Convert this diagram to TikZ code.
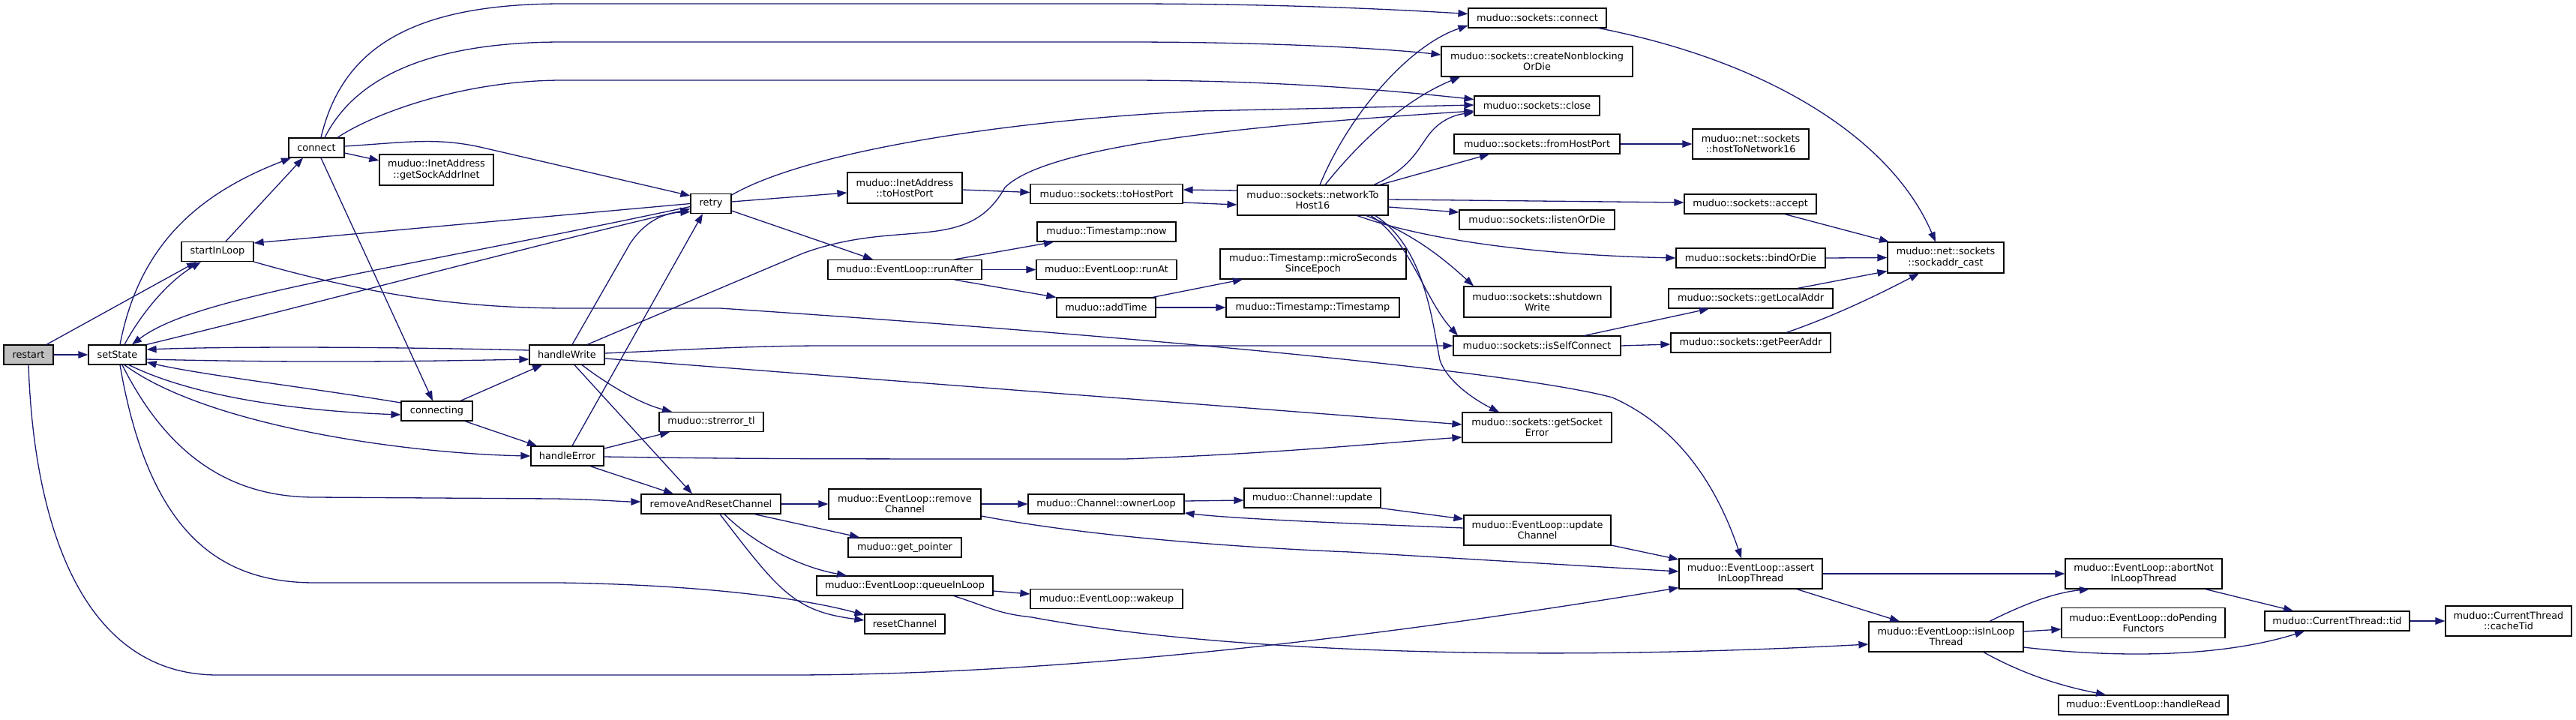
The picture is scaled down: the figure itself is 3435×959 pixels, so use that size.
\documentclass[tikz,border=0pt]{standalone}
\usepackage{fontspec}
\setmainfont{DejaVu Sans}
\usetikzlibrary{arrows.meta}
\definecolor{edgec}{HTML}{191970}
\definecolor{rootfill}{HTML}{BFBFBF}
\newcommand\dnode[5]{\node[nbox,minimum width=#3pt,minimum height=#4pt] (#1) at (#2) {#5};}
\begin{document}
\begin{tikzpicture}[x=1pt,y=-1pt,
  nbox/.style={draw=black, line width=1.2pt, fill=white, inner sep=0pt, align=center, font=\fontsize{12.85}{14.3}\selectfont},
  edg/.style={draw=edgec, line width=1.3pt, -{Triangle[length=13pt,width=9.5pt]}}]
\useasboundingbox (0,0) rectangle (3435,959);
\node[nbox,minimum width=66pt,minimum height=26pt,fill=rootfill] (restart) at (38,473) {restart};
\dnode{setState}{156.5,473}{77}{26}{setState}
\dnode{startInLoop}{290,335.5}{96}{26}{startInLoop}
\dnode{connect}{422,197}{74}{26}{connect}
\dnode{gsai}{582,226.5}{152}{41}{muduo::InetAddress\\::getSockAddrInet}
\dnode{handleWrite}{756,473}{100}{26}{handleWrite}
\dnode{connecting}{582.5,548}{95}{26}{connecting}
\dnode{handleError}{756.5,608}{97}{26}{handleError}
\dnode{rrc}{948,672}{186}{26}{removeAndResetChannel}
\dnode{strerror}{948.5,562.5}{139}{26}{muduo::strerror\_tl}
\dnode{retry}{948,271.5}{54}{26}{retry}
\dnode{ithp}{1206.5,250.5}{153}{41}{muduo::InetAddress\\::toHostPort}
\dnode{sthp}{1475.5,258.5}{203}{26}{muduo::sockets::toHostPort}
\dnode{nth}{1750.5,267}{201}{40}{muduo::sockets::networkTo\\Host16}
\dnode{now}{1475.5,309}{185}{26}{muduo::Timestamp::now}
\dnode{runAfter}{1206.5,359.5}{205}{26}{muduo::EventLoop::runAfter}
\dnode{runAt}{1475.5,359.5}{187}{26}{muduo::EventLoop::runAt}
\dnode{addTime}{1475,410}{132}{26}{muduo::addTime}
\dnode{micro}{1751,352}{248}{40}{muduo::Timestamp::microSeconds\\SinceEpoch}
\dnode{tsts}{1750.5,410}{231}{26}{muduo::Timestamp::Timestamp}
\dnode{removeChannel}{1206.5,672}{203}{40}{muduo::EventLoop::remove\\Channel}
\dnode{ownerLoop}{1475,672}{208}{26}{muduo::Channel::ownerLoop}
\dnode{cupd}{1750,664}{182}{26}{muduo::Channel::update}
\dnode{getptr}{1206.5,730}{151}{26}{muduo::get\_pointer}
\dnode{qil}{1206.5,781}{235}{26}{muduo::EventLoop::queueInLoop}
\dnode{wakeup}{1475.5,798.5}{203}{26}{muduo::EventLoop::wakeup}
\dnode{resetChannel}{1206.5,832}{107}{26}{resetChannel}
\dnode{sconnect}{2050,24}{184}{26}{muduo::sockets::connect}
\dnode{cnb}{2049.5,82}{255}{40}{muduo::sockets::createNonblocking\\OrDie}
\dnode{sclose}{2049.5,141}{167}{26}{muduo::sockets::close}
\dnode{fhp}{2049.5,192}{221}{26}{muduo::sockets::fromHostPort}
\dnode{htn}{2334.5,192}{155}{40}{muduo::net::sockets\\::hostToNetwork16}
\dnode{saccept}{2334,272}{176}{26}{muduo::sockets::accept}
\dnode{slisten}{2049.5,293}{207}{26}{muduo::sockets::listenOrDie}
\dnode{sac}{2594.5,343.5}{155}{41}{muduo::net::sockets\\::sockaddr\_cast}
\dnode{sbind}{2334.5,344}{199}{26}{muduo::sockets::bindOrDie}
\dnode{shutdown}{2050,402.5}{196}{41}{muduo::sockets::shutdown\\Write}
\dnode{gla}{2334.5,398}{219}{26}{muduo::sockets::getLocalAddr}
\dnode{isc}{2049.5,461}{223}{26}{muduo::sockets::isSelfConnect}
\dnode{gpa}{2334.5,457}{213}{26}{muduo::sockets::getPeerAddr}
\dnode{gse}{2049.5,570}{199}{40}{muduo::sockets::getSocket\\Error}
\dnode{updch}{2050,707}{196}{40}{muduo::EventLoop::update\\Channel}
\dnode{ailt}{2334.5,765}{191}{40}{muduo::EventLoop::assert\\InLoopThread}
\dnode{iilt}{2595,849}{206}{40}{muduo::EventLoop::isInLoop\\Thread}
\dnode{abortn}{2858.5,765}{209}{40}{muduo::EventLoop::abortNot\\InLoopThread}
\dnode{dpf}{2858,830.5}{218}{40}{muduo::EventLoop::doPending\\Functors}
\dnode{tid}{3116.5,828}{193}{26}{muduo::CurrentThread::tid}
\dnode{cacheTid}{3345,828}{168}{40}{muduo::CurrentThread\\::cacheTid}
\dnode{handleRead}{2858,940}{226}{26}{muduo::EventLoop::handleRead}
% edges
\draw[edg] (restart.east) -- (setState.west);
\draw[edg] ([xshift=24pt]restart.north) -- ([xshift=-28pt]startInLoop.south);
\draw[edg] (restart.south) .. controls (45,700) and (110,900) .. (290,900) -- (1050,900) .. controls (1450,900) and (1900,840) .. ([yshift=2pt]ailt.south west);
\draw[edg] ([xshift=9.5pt]setState.north) .. controls (190,415) and (225,375) .. ([xshift=-22pt]startInLoop.south);
\draw[edg] ([xshift=3.5pt]setState.north) .. controls (185,330) and (260,260) .. ([xshift=-34pt]connect.south);
\draw[edg] ([xshift=11pt]startInLoop.north) -- ([xshift=-18pt]connect.south);
\draw[edg] ([xshift=6pt]connect.north) .. controls (455,70) and (540,5) .. (750,5) -- (1500,5) .. controls (1700,5) and (1850,12) .. ([yshift=5.5pt]sconnect.west);
\draw[edg] ([xshift=11pt]connect.north) .. controls (470,110) and (560,56) .. (750,56) -- (1500,56) .. controls (1700,56) and (1850,65) .. ([yshift=9pt]cnb.west);
\draw[edg] ([xshift=28pt]connect.north) .. controls (500,150) and (620,107) .. (750,107) -- (1500,107) .. controls (1700,107) and (1850,120) .. ([yshift=8.5pt]sclose.west);
\draw[edg] ([yshift=-7pt]connect.east) -- ([yshift=12.5pt]gsai.west);
\draw[edg] ([yshift=2pt]connect.east) .. controls (540,190) and (580,183) .. (640,196) -- ([yshift=10.5pt]retry.west);
\draw[edg] ([xshift=6pt]connect.south) -- ([xshift=-5.5pt]connecting.north);
\draw[edg] (retry.west) -- ([yshift=11.5pt]startInLoop.east);
\draw[edg] ([yshift=-4pt]retry.west) .. controls (500,365) and (260,395) .. ([xshift=19.5pt]setState.north);
\draw[edg] (setState.north east) .. controls (400,410) and (700,330) .. ([yshift=-7pt]retry.west);
\draw[edg] ([yshift=6pt]handleWrite.west) .. controls (500,462) and (300,462) .. ([yshift=7pt]setState.east);
\draw[edg] ([yshift=-6pt]setState.east) .. controls (400,484) and (550,482) .. ([yshift=-6pt]handleWrite.west);
\draw[edg] ([yshift=11pt]connecting.west) .. controls (420,518) and (270,500) .. ([yshift=-10pt]setState.east);
\draw[edg] ([xshift=15.5pt]setState.south) .. controls (260,530) and (400,548) .. ([yshift=-5pt]connecting.west);
\draw[edg] ([xshift=9.5pt]setState.south) .. controls (280,570) and (550,605) .. (handleError.west);
\draw[edg] ([xshift=6.5pt]setState.south) .. controls (230,620) and (320,663) .. (420,663) -- (740,665) .. controls (800,666) and (830,669) .. ([yshift=3pt]rrc.west);
\draw[edg] ([xshift=3.5pt]setState.south) .. controls (200,720) and (300,777) .. (420,777) -- (746,777) .. controls (950,780) and (1080,800) .. ([yshift=12pt]resetChannel.west);
\draw[edg] ([xshift=31.5pt]connecting.north) -- ([xshift=-33pt]handleWrite.south);
\draw[edg] ([xshift=37.5pt]connecting.south) -- ([xshift=-40.5pt]handleError.north);
\draw[edg] ([xshift=7pt]handleWrite.north) -- (840,325) .. controls (860,295) and (885,284) .. ([yshift=-11pt]retry.west);
\draw[edg] ([xshift=6.5pt]handleError.north) -- ([xshift=-11pt]retry.south);
\draw[edg] ([xshift=27pt]handleWrite.north) -- (1070,338) .. controls (1200,290) and (1290,340) .. (1340,250) .. controls (1400,190) and (1700,165) .. ([yshift=-7pt]sclose.west);
\draw[edg] ([yshift=2pt]handleWrite.east) .. controls (900,467) and (1000,461) .. (1100,461) -- (isc.west);
\draw[edg] ([yshift=-5pt]handleWrite.east) -- ([yshift=4pt]gse.west);
\draw[edg] ([xshift=20pt]handleWrite.south) .. controls (820,520) and (860,540) .. ([xshift=-52.5pt]strerror.north);
\draw[edg] ([xshift=10pt]handleWrite.south) -- ([xshift=-25pt]rrc.north);
\draw[edg] ([yshift=10pt]handleError.east) -- ([xshift=-55.5pt]strerror.south);
\draw[edg] ([yshift=-1pt]handleError.east) .. controls (1000,612) and (1100,612) .. (1500,612) .. controls (1700,605) and (1850,590) .. ([yshift=-13pt]gse.west);
\draw[edg] ([xshift=30.5pt]handleError.south) -- ([xshift=-50pt]rrc.north);
\draw[edg] ([yshift=2.5pt]retry.east) -- ([yshift=-6.5pt]ithp.west);
\draw[edg] ([yshift=-9.5pt]retry.east) -- ([xshift=-42.5pt]runAfter.north);
\draw[edg] ([yshift=11.5pt]retry.east) .. controls (1080,200) and (1350,160) .. (1600,148) -- ([yshift=1pt]sclose.west);
\draw[edg] ([yshift=-2.5pt]ithp.east) -- ([yshift=2pt]sthp.west);
\draw[edg] ([yshift=13pt]nth.west) -- ([yshift=5.5pt]sthp.east);
\draw[edg] ([yshift=-11.5pt]sthp.east) -- ([yshift=-6pt]nth.west);
\draw[edg] ([xshift=66.5pt]runAfter.north) -- ([xshift=-70.5pt]now.south);
\draw[edg] (runAfter.east) -- (runAt.west);
\draw[edg] ([xshift=66.5pt]runAfter.south) -- (addTime.north west);
\draw[edg] ([xshift=62pt]addTime.north) -- ([xshift=-94pt]micro.south);
\draw[edg] (addTime.east) -- (tsts.west);
\draw[edg] ([xshift=9.5pt]nth.north) .. controls (1800,150) and (1880,60) .. ([yshift=-10pt]sconnect.west);
\draw[edg] ([xshift=16.5pt]nth.north) .. controls (1820,180) and (1880,130) .. ([xshift=-102.5pt]cnb.south);
\draw[edg] ([xshift=81.5pt]nth.north) .. controls (1880,225) and (1890,200) .. (1905,180) .. controls (1920,160) and (1940,153) .. ([yshift=-9pt]sclose.west);
\draw[edg] ([xshift=89.5pt]nth.north) -- ([xshift=-63.5pt]fhp.south);
\draw[edg] (fhp.east) -- (htn.west);
\draw[edg] ([yshift=1pt]nth.east) -- ([yshift=2pt]saccept.west);
\draw[edg] ([yshift=-9pt]nth.east) -- ([yshift=10pt]slisten.west);
\draw[edg] ([xshift=59.5pt]nth.south) .. controls (1900,320) and (2050,340) .. (sbind.west);
\draw[edg] ([xshift=71.5pt]nth.south) .. controls (1880,310) and (1920,340) .. ([xshift=-85pt]shutdown.north);
\draw[edg] ([xshift=77.5pt]nth.south) .. controls (1880,320) and (1900,400) .. ([xshift=-105.5pt]isc.north);
\draw[edg] ([xshift=83.5pt]nth.south) .. controls (1900,330) and (1910,430) .. (1920,480) .. controls (1930,510) and (1970,535) .. ([xshift=-50.5pt]gse.north);
\draw[edg] ([xshift=63.5pt]isc.north) -- ([xshift=-55.5pt]gla.south);
\draw[edg] (isc.east) -- ([yshift=-2pt]gpa.west);
\draw[edg] ([xshift=46pt]saccept.south) -- ([xshift=-75.5pt]sac.north);
\draw[edg] (sbind.east) -- (sac.west);
\draw[edg] ([xshift=62.5pt]gla.north) -- ([yshift=-18pt]sac.west);
\draw[edg] ([xshift=47.5pt]gpa.north) .. controls (2450,420) and (2510,390) .. ([xshift=-35.5pt]sac.south);
\draw[edg] ([xshift=82pt]sconnect.south) .. controls (2350,80) and (2520,180) .. ([xshift=-13.5pt]sac.north);
\draw[edg] (cupd.south east) -- ([yshift=15pt]updch.west);
\draw[edg] ([yshift=3pt]updch.west) .. controls (1800,698) and (1650,692) .. ([yshift=-12pt]ownerLoop.east);
\draw[edg] ([yshift=4pt]ownerLoop.east) -- ([yshift=-3pt]cupd.west);
\draw[edg] (removeChannel.east) -- (ownerLoop.west);
\draw[edg] ([yshift=-16pt]removeChannel.east) .. controls (1450,715) and (1650,730) .. (1800,736) -- ([yshift=3pt]ailt.west);
\draw[edg] ([yshift=-20pt]updch.east) -- ([yshift=19pt]ailt.west);
\draw[edg] (startInLoop.south east) .. controls (500,395) and (620,411) .. (760,411) -- (960,411) .. controls (1400,440) and (2000,490) .. (2150,530) .. controls (2240,570) and (2290,650) .. ([xshift=-12.5pt]ailt.north);
\draw[edg] (rrc.east) -- (removeChannel.west);
\draw[edg] ([xshift=58pt]rrc.south) -- ([xshift=-60.5pt]getptr.north);
\draw[edg] ([xshift=18pt]rrc.south) .. controls (1000,720) and (1060,755) .. ([xshift=-77.5pt]qil.north);
\draw[edg] ([xshift=12pt]rrc.south) .. controls (1040,790) and (1060,815) .. ([yshift=5pt]resetChannel.west);
\draw[edg] ([yshift=-7pt]qil.east) -- ([yshift=6.5pt]wakeup.west);
\draw[edg] ([xshift=65.5pt]qil.south) .. controls (1320,810) and (1330,818) .. (1376,823) .. controls (1600,865) and (2000,885) .. ([yshift=-10pt]iilt.west);
\draw[edg] ([xshift=61.5pt]ailt.south) -- ([xshift=-62pt]iilt.north);
\draw[edg] (ailt.east) -- (abortn.west);
\draw[edg] ([xshift=58pt]iilt.north) .. controls (2700,805) and (2740,790) .. ([xshift=-72.5pt]abortn.south);
\draw[edg] ([yshift=7pt]iilt.east) -- ([yshift=-8.5pt]dpf.west);
\draw[edg] ([yshift=-14pt]iilt.east) .. controls (2800,875) and (2950,880) .. ([xshift=-43.5pt]tid.south);
\draw[edg] ([xshift=50pt]iilt.south) .. controls (2700,900) and (2750,915) .. ([xshift=-50pt]handleRead.north);
\draw[edg] ([xshift=82.5pt]abortn.south) -- ([xshift=-58.5pt]tid.north);
\draw[edg] (tid.east) -- (cacheTid.west);
\end{tikzpicture}
\end{document}
